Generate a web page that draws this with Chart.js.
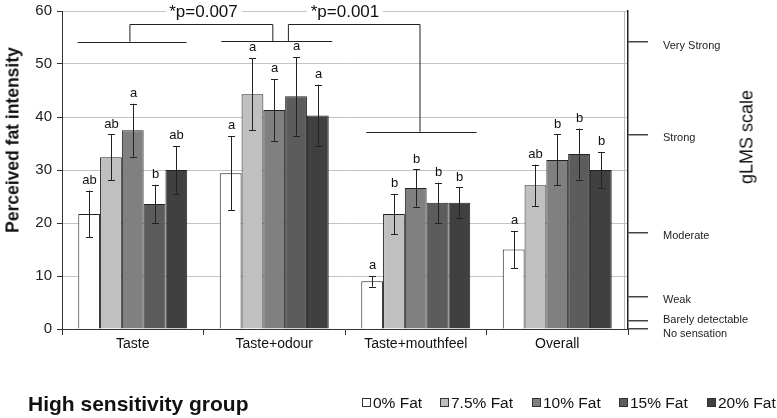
<!DOCTYPE html>
<html>
<head>
<meta charset="utf-8">
<script src="https://cdn.jsdelivr.net/npm/chart.js@4/dist/chart.umd.min.js"></script>
<style>
  body { margin: 0; background: #fff; }
  #wrap { position: relative; width: 777px; height: 418px; font-family: "Liberation Sans", Arial, sans-serif; color: #111; }
  #chart { position: absolute; left: 0; top: 0; }
  .group { position: absolute; left: 28px; top: 392px; font-size: 21px; font-weight: bold; }
  .leg { position: absolute; top: 393px; font-size: 15.5px; line-height: 20px; white-space: nowrap; }
  .leg i { display: inline-block; width: 7px; height: 7px; border: 1px solid #333; margin-right: 2px; vertical-align: 1px; }
  .rot { position: absolute; transform: translate(-50%, -50%) rotate(-90deg); white-space: nowrap; }
  .glms { left: 747px; top: 137px; font-size: 18px; }
  .ytitle { left: 13px; top: 140px; font-size: 17.5px; font-weight: bold; }
</style>
</head>
<body>
<div id="wrap">
  <canvas id="chart" width="777" height="418"></canvas>
  <div class="rot ytitle">Perceived fat intensity</div>
  <div class="group">High sensitivity group</div>
  <div id="legend"></div>
  <div class="rot glms">gLMS scale</div>
</div>
<script>
// data
const categories = ['Taste', 'Taste+odour', 'Taste+mouthfeel', 'Overall'];
const fatLabels = ['0% Fat', '7.5% Fat', '10% Fat', '15% Fat', '20% Fat'];
const fat0  = [21.7, 29.4, 9.0, 15.0];
const fat75 = [32.4, 44.3, 21.7, 27.1];
const fat10 = [37.5, 41.3, 26.6, 31.9];
const fat15 = [23.6, 43.9, 23.8, 33.0];
const fat20 = [30.0, 40.3, 23.8, 30.0];
const err0  = [4.4, 7.0, 1.0, 3.5];
const err75 = [4.3, 6.8, 3.8, 3.9];
const err10 = [5.0, 5.8, 3.5, 4.8];
const err15 = [3.6, 7.4, 3.8, 4.8];
const err20 = [4.5, 5.8, 2.9, 3.4];
const letters0  = ['ab', 'a', 'a', 'a'];
const letters75 = ['ab', 'a', 'b', 'ab'];
const letters10 = ['a', 'a', 'b', 'b'];
const letters15 = ['b', 'a', 'b', 'b'];
const letters20 = ['ab', 'a', 'b', 'b'];
const yTicks = [0, 10, 20, 30, 40, 50, 60];
const glmsValues = [0, 1.5, 6, 18.1, 36.6, 54.2];
const glmsLabels = ['No sensation', 'Barely detectable', 'Weak', 'Moderate', 'Strong', 'Very Strong'];
// brackets: [x from (category units), x to, y]
const groupLines = [[-0.39, 0.38, 54.2], [0.625, 1.41, 54.3], [1.65, 2.43, 37.2]];
const pTexts = ['*p=0.007', '*p=0.001'];

const colors = ['#ffffff', '#c0c0c0', '#808080', '#5c5c5c', '#404040'];
const values = [fat0, fat75, fat10, fat15, fat20];
const errors = [err0, err75, err10, err15, err20];
const letters = [letters0, letters75, letters10, letters15, letters20];

Chart.defaults.font.family = '"Liberation Sans", Arial, sans-serif';
Chart.defaults.color = '#111';

const extras = {
  id: 'extras',
  afterDatasetsDraw(chart) {
    const ctx = chart.ctx, x = chart.scales.x, y = chart.scales.y;
    const cw = x.getPixelForValue(1) - x.getPixelForValue(0);
    const px = v => x.getPixelForValue(0) + v * cw;
    ctx.save();
    ctx.strokeStyle = '#222';
    ctx.lineWidth = 1;
    // error bars and letters
    values.forEach((vals, d) => {
      const meta = chart.getDatasetMeta(d);
      meta.data.forEach((bar, i) => {
        const bx = Math.round(bar.x) + 0.5;
        const top = y.getPixelForValue(vals[i] + errors[d][i]);
        const bot = y.getPixelForValue(vals[i] - errors[d][i]);
        ctx.beginPath();
        ctx.moveTo(bx, top); ctx.lineTo(bx, bot);
        ctx.moveTo(bx - 3.5, Math.round(top) + 0.5); ctx.lineTo(bx + 3.5, Math.round(top) + 0.5);
        ctx.moveTo(bx - 3.5, Math.round(bot) + 0.5); ctx.lineTo(bx + 3.5, Math.round(bot) + 0.5);
        ctx.stroke();
        ctx.fillStyle = '#111';
        ctx.font = '13px "Liberation Sans", Arial';
        ctx.textAlign = 'center';
        ctx.textBaseline = 'bottom';
        ctx.fillText(letters[d][i], bx, top - 4);
      });
    });
    // bracket lines
    groupLines.forEach(([a, b, v]) => {
      const yy = Math.round(y.getPixelForValue(v)) + 0.5;
      ctx.beginPath(); ctx.moveTo(px(a), yy); ctx.lineTo(px(b), yy); ctx.stroke();
    });
    const yTop = Math.round(y.getPixelForValue(57.5)) + 0.5;
    ctx.beginPath();
    ctx.moveTo(px(-0.02), y.getPixelForValue(54.2));
    ctx.lineTo(px(-0.02), yTop);
    ctx.lineTo(px(0.99), yTop);
    ctx.lineTo(px(0.99), y.getPixelForValue(54.3));
    ctx.moveTo(px(1.1), y.getPixelForValue(54.3));
    ctx.lineTo(px(1.1), yTop);
    ctx.lineTo(px(2.03), yTop);
    ctx.lineTo(px(2.03), y.getPixelForValue(37.2));
    ctx.stroke();
    ctx.font = '17px "Liberation Sans", Arial';
    ctx.textBaseline = 'middle';
    ctx.fillStyle = '#111';
    ctx.clearRect(px(0.5) - 38, y.getPixelForValue(60) - 9, 76, 18);
    ctx.clearRect(px(1.5) - 38, y.getPixelForValue(60) - 9, 76, 18);
    ctx.fillText(pTexts[0], px(0.5), y.getPixelForValue(60) + 1);
    ctx.fillText(pTexts[1], px(1.5), y.getPixelForValue(60) + 1);
    // plot area right border
    ctx.strokeStyle = '#bbb';
    ctx.beginPath();
    ctx.moveTo(chart.chartArea.right - 3.5, chart.chartArea.top);
    ctx.lineTo(chart.chartArea.right - 3.5, chart.chartArea.bottom);
    ctx.stroke();
    // gLMS labels
    const y2 = chart.scales.y2;
    const shift = [5, -1, 3, 3, 3, 4];
    ctx.font = '11px "Liberation Sans", Arial';
    ctx.textAlign = 'left';
    ctx.fillStyle = '#222';
    glmsValues.forEach((v, i) => {
      ctx.fillText(glmsLabels[i], chart.chartArea.right + 35, y2.getPixelForValue(v) + shift[i]);
    });
    ctx.restore();
  }
};

const noPad = s => { s.paddingTop = 0; s.paddingBottom = 0; };

new Chart(document.getElementById('chart'), {
  type: 'bar',
  data: {
    labels: categories,
    datasets: values.map((v, d) => ({
      label: fatLabels[d],
      data: v,
      backgroundColor: colors[d],
      borderColor: '#222',
      borderWidth: 1,
      categoryPercentage: 0.77,
      barPercentage: 1
    }))
  },
  options: {
    responsive: false,
    animation: false,
    layout: { padding: { top: 11, left: 0, right: 0, bottom: 0 } },
    plugins: { legend: { display: false }, tooltip: { enabled: false } },
    scales: {
      x: {
        grid: { drawOnChartArea: false, tickLength: 6, tickColor: '#333' },
        border: { color: '#333' },
        ticks: { font: { size: 14 }, color: '#111', padding: 1 },
        afterFit: s => { s.height = 89; }
      },
      y: {
        min: 0, max: 60,
        afterBuildTicks: s => { s.ticks = yTicks.map(v => ({ value: v })); },
        grid: { color: '#c4c4c4', tickLength: 5, tickColor: '#333' },
        border: { color: '#333' },
        ticks: { font: { size: 15 }, color: '#222', padding: 5 },
        afterFit: s => { s.width = 62; noPad(s); }
      },
      y2: {
        position: 'right',
        min: 0, max: 60,
        afterBuildTicks: s => { s.ticks = glmsValues.map(v => ({ value: v })); },
        grid: { drawOnChartArea: false, tickLength: 20, tickColor: '#444', lineWidth: 1.5 },
        border: { color: '#222', width: 1.5 },
        ticks: { display: false },
        afterFit: s => { s.width = 149; noPad(s); }
      }
    }
  },
  plugins: [extras]
});

// legend row
const legX = [362, 440, 532, 619, 707];
const legend = document.getElementById('legend');
fatLabels.forEach((t, i) => {
  const el = document.createElement('div');
  el.className = 'leg';
  el.style.left = legX[i] + 'px';
  el.innerHTML = '<i style="background:' + colors[i] + '"></i>' + t;
  legend.appendChild(el);
});
</script>
</body>
</html>
